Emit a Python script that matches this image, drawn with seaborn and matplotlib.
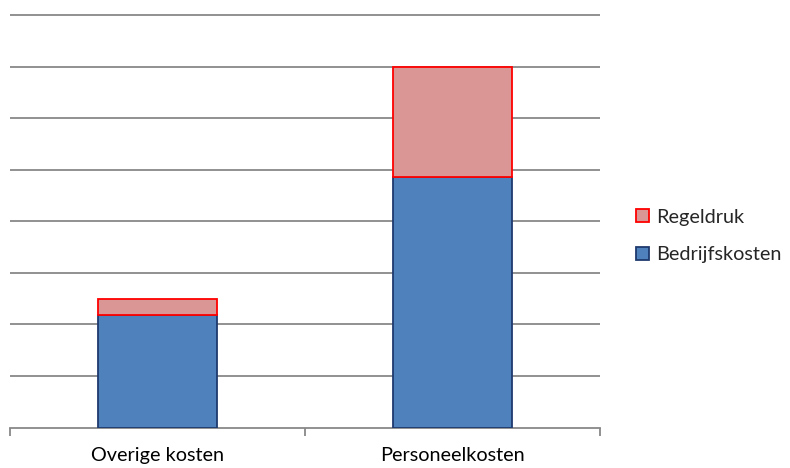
import matplotlib
matplotlib.use("Agg")
import matplotlib.pyplot as plt
from matplotlib.patches import Patch
import pandas as pd
import seaborn as sns

categories = ["Overige kosten", "Personeelkosten"]
bedrijfskosten = [2.18, 4.85]
regeldruk = [0.32, 2.15]

BLUE, BLUE_EDGE = "#4F81BD", "#1F3A6E"
PINK, PINK_EDGE = "#D99694", "#FF0000"
GRID = "#888888"

sns.set_theme(style="white")
plt.rcParams["font.family"] = ["Lato", "DejaVu Sans"]

df = pd.DataFrame({"categorie": categories,
                   "Bedrijfskosten": bedrijfskosten,
                   "Regeldruk": regeldruk})

fig = plt.figure(figsize=(7.9, 4.68), dpi=100)
ax_top = 1 - 12.4 / 468
ax_bot = 1 - 427.5 / 468
ax = fig.add_axes([10 / 790, ax_bot, 590 / 790, ax_top - ax_bot])

# stacked bars: company costs at the bottom, regulatory burden on top
sns.barplot(data=df, x="categorie", y="Bedrijfskosten", ax=ax, color=BLUE,
            saturation=1, width=0.405, edgecolor=BLUE_EDGE, linewidth=1.3,
            errorbar=None, zorder=3)
sns.barplot(data=df, x="categorie", y="Regeldruk", ax=ax, color=PINK,
            saturation=1, width=0.405, edgecolor=PINK_EDGE, linewidth=1.3,
            errorbar=None, bottom=df["Bedrijfskosten"].to_numpy(), zorder=3)

ax.set_xlim(-0.5, 1.5)
ax.set_ylim(0, 8.05)
ax.set_yticks(range(1, 9))
ax.set_yticklabels([])
ax.tick_params(axis="y", length=0)
ax.yaxis.grid(True, color=GRID, linewidth=1.3)
ax.set_axisbelow(True)

for side in ("left", "right", "top"):
    ax.spines[side].set_visible(False)
ax.spines["bottom"].set_color(GRID)
ax.spines["bottom"].set_linewidth(1.3)

ax.set_xlabel("")
ax.set_ylabel("")
ax.set_xticks([0, 1])
ax.set_xticklabels(categories, fontsize=14.3, color="#000000")
ax.tick_params(axis="x", which="major", length=0, pad=14)
ax.set_xticks([-0.5, 0.5, 1.5], minor=True)
ax.tick_params(axis="x", which="minor", bottom=True, length=6, width=1.3,
               color=GRID, direction="out")

handles = [Patch(facecolor=PINK, edgecolor=PINK_EDGE, linewidth=1.3, label="Regeldruk"),
           Patch(facecolor=BLUE, edgecolor=BLUE_EDGE, linewidth=1.3, label="Bedrijfskosten")]
fig.legend(handles=handles, loc="center left", bbox_to_anchor=(636 / 790, 1 - 236 / 468),
           frameon=False, fontsize=14.3, handlelength=0.65, handleheight=0.65,
           handletextpad=0.35, labelspacing=1.05, borderaxespad=0, borderpad=0)

fig.savefig("out.png", dpi=100)
